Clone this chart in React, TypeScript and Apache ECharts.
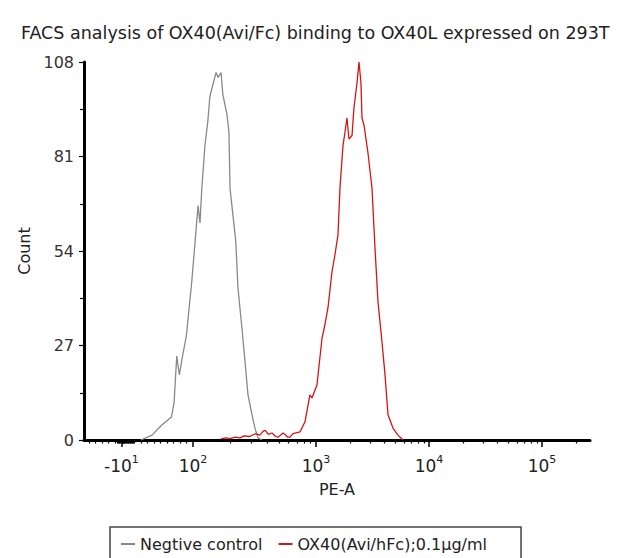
import React, { useEffect, useRef } from "react";
import * as echarts from "echarts";

// ---- data (PE-A value, count) ----
const negControlPE = [20, 37, 52, 67, 71, 75, 79, 84, 90, 95, 98, 104, 110, 114, 118, 125, 132, 137, 145, 154, 160, 169, 175, 189, 196, 200, 211, 223, 232, 250, 265, 280, 302, 319, 338, 364];
const negControlCount = [0, 1.4, 4.3, 6.6, 10.9, 24, 18.6, 24, 30, 39.5, 45, 56.6, 67, 62, 72, 84, 91, 98, 101.5, 105, 103.6, 105, 98.7, 93, 88, 72, 64.4, 56.6, 43.5, 32, 22.3, 12.9, 7.2, 3.4, 0.6, 0];

const ox40PE = [169, 185, 200, 220, 241, 260, 290, 320, 350, 370, 385, 410, 439, 470, 491, 520, 539, 565, 590, 615, 650, 741, 814, 893, 927, 1020, 1130, 1201, 1277, 1385, 1473, 1566, 1630, 1733, 1806, 1881, 1959, 2084, 2169, 2307, 2403, 2501, 2553, 2659, 2885, 3131, 3327, 3537, 3839, 4083, 4340, 4800, 5318, 5892];
const ox40Count = [0.3, 0.6, 0.4, 0.8, 0.6, 1.2, 1.0, 1.8, 1.4, 2.4, 2.8, 1.6, 2.0, 1.0, 0.8, 1.5, 2.0, 1.5, 0.8, 0.8, 1.8, 2.3, 5.2, 12.9, 12, 15.7, 29, 33, 37.8, 48, 53, 58.6, 72, 84, 88, 92, 86, 87, 95, 102, 108, 102, 92, 90, 82, 72, 55, 39.5, 28, 18.6, 7.2, 3.4, 1.4, 0];

const seriesNames = ["Negtive control", "OX40(Avi/hFc);0.1µg/ml"];

// ---- axis ticks (PE-A values) ----
const majorTickPE = [-10, 100, 1000, 10000, 100000];
const majorTickLabels = ["-10{s|1}", "10{s|2}", "10{s|3}", "10{s|4}", "10{s|5}"];
const minorTickPE = [
  -60, -50, -40, -30, -20,
  -16, -15, -14, -13, -12, -11, -9, -8, -7, -6, -5, -4, -3, -2, -1, 0, 1, 2, 3, 4, 5, 6, 7, 8,
  10, 20, 30, 40, 50, 60, 70, 80, 90,
  200, 300, 400, 500, 600, 700, 800, 900,
  2000, 3000, 4000, 5000, 6000, 7000, 8000, 9000,
  20000, 30000, 40000, 50000, 60000, 70000, 80000, 90000,
  200000,
];

// biexponential-like display transform (linear near zero, log above)
const LIN_ZERO = 1.3363;
const LIN_SLOPE = 0.005752;
const MID_START = 1.9115;
const MID_DECADE = 1.0885;
function biex(v: number): number {
  if (v >= 1000) return Math.log10(v);
  if (v >= 100) return MID_START + (Math.log10(v) - 2) * MID_DECADE;
  return LIN_ZERO + v * LIN_SLOPE;
}
const X_MIN = 0.947;
const X_MAX = 5.425;

const majorD = majorTickPE.map(biex);
const minorD = minorTickPE.map(biex);

export default function App() {
  const ref = useRef<HTMLDivElement>(null);
  useEffect(() => {
    if (!ref.current) return;
    const chart = echarts.init(ref.current, null, { renderer: "svg" });
    const font = "DejaVu Sans";
    chart.setOption({
      animation: false,
      backgroundColor: "#ffffff",
      title: {
        text: "FACS analysis of OX40(Avi/Fc) binding to OX40L expressed on 293T",
        left: 16,
        top: 19,
        textStyle: { fontSize: 17.5, fontWeight: "normal", color: "#222", fontFamily: font },
      },
      grid: { left: 84, right: 32, top: 62, bottom: 118 },
      legend: {
        left: 116,
        top: 531,
        padding: 5,
        itemWidth: 14,
        itemHeight: 2,
        itemGap: 16,
        textStyle: { fontSize: 16, color: "#222", fontFamily: font },
        data: seriesNames.map((n) => ({ name: n, icon: "rect" })),
      },
      graphic: [
        {
          type: "rect",
          shape: { x: 110, y: 527, width: 411, height: 45 },
          style: { fill: "none", stroke: "#444", lineWidth: 1.5 },
          silent: true,
        },
      ],
      xAxis: [
        {
          type: "value",
          min: X_MIN,
          max: X_MAX,
          name: "PE-A",
          nameLocation: "middle",
          nameGap: 41,
          nameTextStyle: { fontSize: 16, color: "#222", fontFamily: font },
          axisLine: { show: true, onZero: false, lineStyle: { color: "#000", width: 3 } },
          axisTick: { show: true, length: 7, customValues: majorD, lineStyle: { color: "#000", width: 1.5 } },
          axisLabel: {
            customValues: majorD,
            margin: 14,
            color: "#222",
            fontSize: 17,
            fontFamily: font,
            formatter: (val: number) => {
              const i = majorD.findIndex((d) => Math.abs(d - val) < 1e-6);
              return i >= 0 ? majorTickLabels[i] : "";
            },
            rich: {
              s: { fontSize: 11, fontFamily: font, color: "#222", padding: [0, 0, 12, 0] },
            },
          },
          splitLine: { show: false },
        },
        {
          type: "value",
          min: X_MIN,
          max: X_MAX,
          position: "bottom",
          axisLine: { show: false, onZero: false },
          axisTick: { show: true, length: 3.5, customValues: minorD, lineStyle: { color: "#000", width: 1.2 } },
          axisLabel: { show: false },
          splitLine: { show: false },
        },
      ],
      yAxis: {
        type: "value",
        min: 0,
        max: 108,
        interval: 27,
        name: "Count",
        nameLocation: "middle",
        nameGap: 48,
        nameTextStyle: { fontSize: 16, color: "#222", fontFamily: font },
        axisLine: { show: true, lineStyle: { color: "#000", width: 3 } },
        axisTick: { show: true, length: 5, lineStyle: { color: "#000", width: 1.2 } },
        minorTick: { show: true, splitNumber: 2, length: 4, lineStyle: { color: "#000", width: 1.2 } },
        axisLabel: { color: "#333", fontSize: 16, fontFamily: font, margin: 10 },
        splitLine: { show: false },
      },
      series: [
        {
          name: seriesNames[0],
          type: "line",
          xAxisIndex: 0,
          symbol: "none",
          lineStyle: { color: "#888", width: 1.3 },
          itemStyle: { color: "#888" },
          data: negControlPE.map((v, i) => [biex(v), negControlCount[i]]),
        },
        {
          name: seriesNames[1],
          type: "line",
          xAxisIndex: 0,
          symbol: "none",
          lineStyle: { color: "#d61414", width: 1.3 },
          itemStyle: { color: "#d61414" },
          data: ox40PE.map((v, i) => [biex(v), ox40Count[i]]),
        },
      ],
    });
    return () => chart.dispose();
  }, []);
  return <div ref={ref} style={{ position: "absolute", left: 0, top: 0, width: 622, height: 558 }} />;
}
